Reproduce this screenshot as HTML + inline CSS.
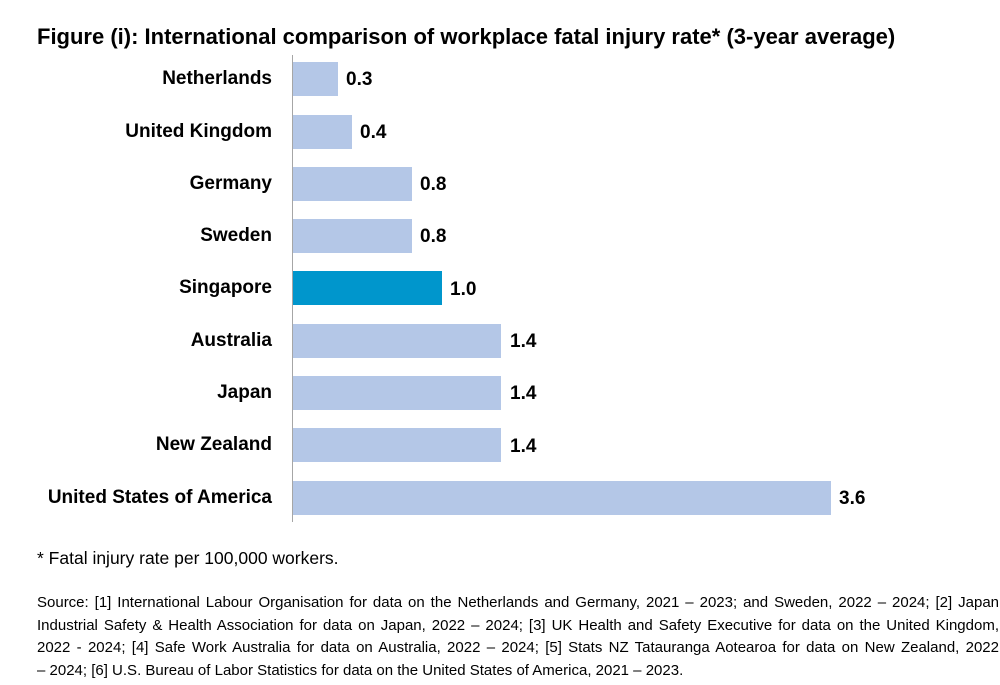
<!DOCTYPE html>
<html><head><meta charset="utf-8"><style>
body{margin:0;width:1000px;height:685px;background:#fff;font-family:"Liberation Sans",sans-serif;position:relative;overflow:hidden;color:#000}
.t{position:absolute;left:37px;top:24px;font-size:22px;font-weight:bold;white-space:nowrap}
.lab{position:absolute;right:728px;font-size:19px;font-weight:bold;white-space:nowrap;line-height:22px}
.bar{position:absolute;left:293px;height:34px;background:#b4c7e7}
.v{position:absolute;font-size:19px;font-weight:bold;line-height:22px}
.ax{position:absolute;left:292px;top:55px;width:1px;height:467px;background:#a6a6a6}
.f{position:absolute;left:37px;top:548px;font-size:17.5px}
.s{position:absolute;left:37px;top:592px;width:962px;font-size:15px;line-height:22.7px}
.s div{text-align:justify;text-align-last:justify;white-space:nowrap}
.s div.l{text-align-last:left}
</style></head><body>
<div class="t">Figure (i): International comparison of workplace fatal injury rate* (3-year average)</div>
<div class="ax"></div>

<div class="lab" style="top:68px">Netherlands</div><div class="bar" style="top:62px;width:45px"></div><div class="v" style="left:346px;top:69px">0.3</div>
<div class="lab" style="top:121px">United Kingdom</div><div class="bar" style="top:115px;width:59px"></div><div class="v" style="left:360px;top:122px">0.4</div>
<div class="lab" style="top:173px">Germany</div><div class="bar" style="top:167px;width:119px"></div><div class="v" style="left:420px;top:174px">0.8</div>
<div class="lab" style="top:225px">Sweden</div><div class="bar" style="top:219px;width:119px"></div><div class="v" style="left:420px;top:226px">0.8</div>
<div class="lab" style="top:277px">Singapore</div><div class="bar" style="top:271px;width:149px;background:#0096cc"></div><div class="v" style="left:450px;top:279px">1.0</div>
<div class="lab" style="top:330px">Australia</div><div class="bar" style="top:324px;width:208px"></div><div class="v" style="left:510px;top:331px">1.4</div>
<div class="lab" style="top:382px">Japan</div><div class="bar" style="top:376px;width:208px"></div><div class="v" style="left:510px;top:383px">1.4</div>
<div class="lab" style="top:434px">New Zealand</div><div class="bar" style="top:428px;width:208px"></div><div class="v" style="left:510px;top:436px">1.4</div>
<div class="lab" style="top:487px">United States of America</div><div class="bar" style="top:481px;width:538px"></div><div class="v" style="left:839px;top:488px">3.6</div>

<div class="f">* Fatal injury rate per 100,000 workers.</div>
<div class="s">
<div>Source: [1] International Labour Organisation for data on the Netherlands and Germany, 2021 – 2023; and Sweden, 2022 – 2024; [2] Japan</div>
<div>Industrial Safety &amp; Health Association for data on Japan, 2022 – 2024; [3] UK Health and Safety Executive for data on the United Kingdom,</div>
<div>2022 - 2024; [4] Safe Work Australia for data on Australia, 2022 – 2024; [5] Stats NZ Tatauranga Aotearoa for data on New Zealand, 2022</div>
<div class="l">– 2024; [6] U.S. Bureau of Labor Statistics for data on the United States of America, 2021 – 2023.</div>
</div>
</body></html>
